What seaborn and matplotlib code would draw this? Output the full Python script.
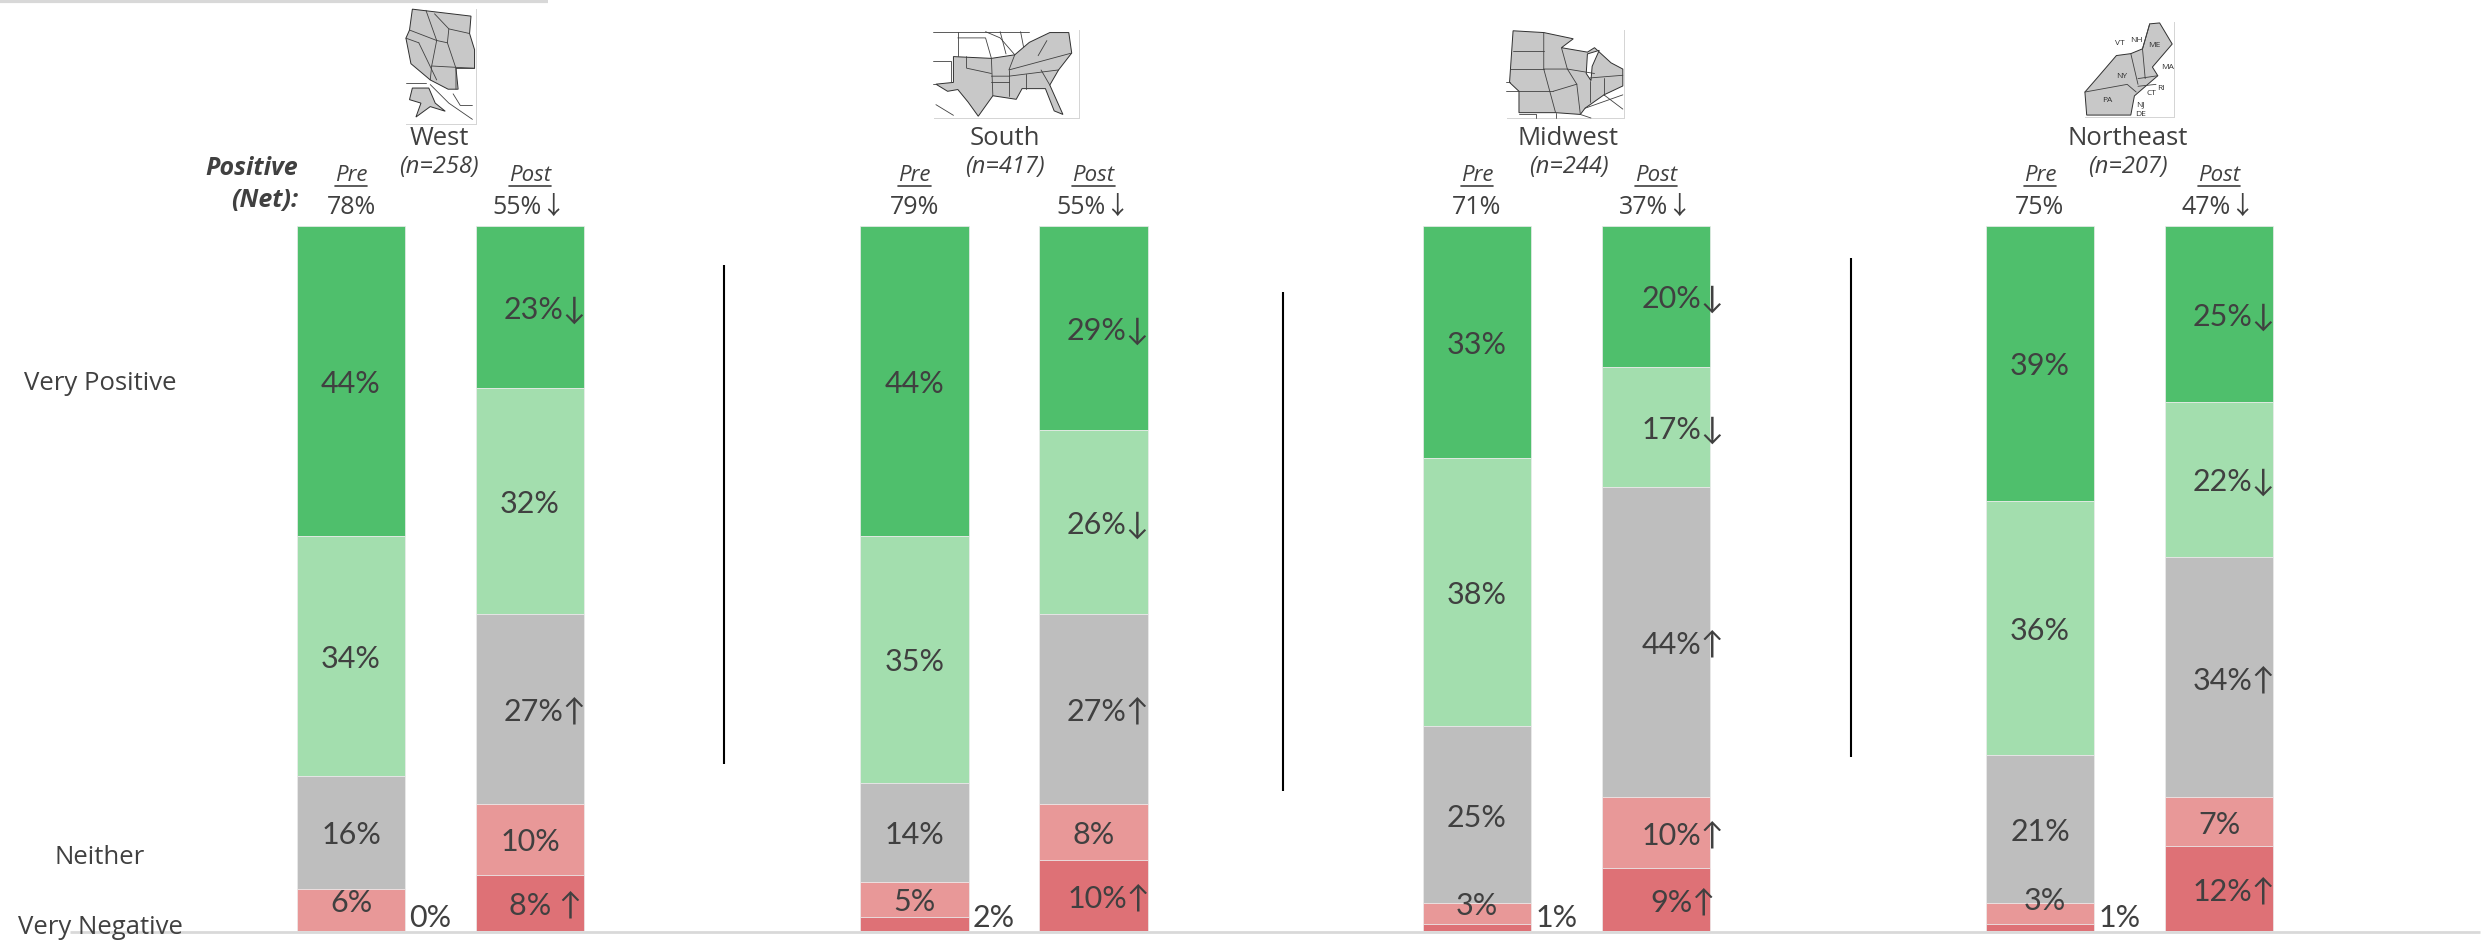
import pandas as pd
import seaborn as sns
import matplotlib.pyplot as plt
from matplotlib.patches import Polygon, Rectangle

regions = ['West', 'South', 'Midwest', 'Northeast']
sizes = ['(n=258)', '(n=417)', '(n=244)', '(n=207)']
phases = ['Pre', 'Post']
ratings = ['Very Positive', 'Positive', 'Neither', 'Negative', 'Very Negative']

pre_values = [[44, 34, 16, 6, 0], [44, 35, 14, 5, 2], [33, 38, 25, 3, 1], [39, 36, 21, 3, 1]]
post_values = [[23, 32, 27, 10, 8], [29, 26, 27, 8, 10], [20, 17, 44, 10, 9], [25, 22, 34, 7, 12]]
post_arrows = [['↓', '', '↑', '', ' ↑'], ['↓', '↓', '↑', '', '↑'], ['↓', '↓', '↑', '↑', '↑'], ['↓', '↓', '↑', '', '↑']]
net_pre = ['78%', '79%', '71%', '75%']
net_post = ['55%↓', '55%↓', '37%↓', '47%↓']

colors = ['#4FBF6C', '#A3DEAE', '#BEBEBE', '#E89898', '#DE7176']
text_col = '#404040'

# map thumbnails, rough outlines inside the picture box (0-1)
west_map = [(.11, .01), (.93, .07), (.91, .22), (.98, .36), (.98, .52), (.72, .52), (.75, .70), (.61, .70), (.36, .62), (.09, .48), (.02, .26), (.07, .19)]
alaska_map = [(.11, .69), (.34, .69), (.43, .82), (.57, .89), (.36, .85), (.16, .94), (.23, .82), (.07, .79)]
south_map = [(.14, .31), (.40, .33), (.56, .29), (.66, .15), (.80, .04), (.93, .04), (.95, .27), (.86, .46), (.80, .63), (.89, .96), (.83, .92), (.77, .67), (.61, .67), (.57, .79), (.41, .75), (.31, .98), (.24, .82), (.17, .68), (.10, .70), (.02, .62), (.14, .60)]
midwest_map = [(.06, .02), (.32, .04), (.57, .11), (.47, .21), (.69, .26), (.75, .21), (.89, .38), (.99, .45), (.99, .64), (.83, .74), (.67, .89), (.63, .96), (.42, .94), (.11, .94), (.11, .70), (.03, .60)]
midwest_lake = [(.69, .28), (.79, .24), (.73, .42), (.72, .58), (.68, .50)]
northeast_map = [(.73, .03), (.84, .02), (.98, .24), (.76, .48), (.82, .57), (.56, .78), (.52, .98), (.03, .98), (.01, .74), (.14, .60), (.36, .36), (.52, .34), (.65, .29)]

west_lines = [[(.07, .19), (.45, .28)], [(.02, .26), (.20, .30)], [(.20, .30), (.45, .62)], [(.45, .28), (.38, .50), (.36, .62)], [(.38, .50), (.98, .52)], [(.45, .28), (.60, .30), (.62, .18), (.91, .22)], [(.60, .30), (.72, .52), (.72, .70)], [(.30, .02), (.45, .28)], [(.42, .05), (.62, .18)],
              [(.02, .65), (.30, .65)], [(.36, .66), (.62, .82), (.95, .96)], [(.68, .74), (.78, .84), (.95, .84)]]
south_lines = [[(.40, .33), (.41, .75)], [(.23, .31), (.23, .44), (.40, .50)], [(.40, .53), (.52, .53), (.86, .46)], [(.56, .29), (.52, .46), (.95, .27)], [(.52, .46), (.52, .75)], [(.64, .50), (.64, .67)], [(.74, .46), (.80, .63)], [(.40, .60), (.52, .60)], [(.78, .13), (.72, .30)],
               [(0, .03), (.66, .03)], [(.17, .03), (.17, .30)], [(.17, .10), (.36, .10), (.40, .33)], [(.36, .03), (.46, .10), (.56, .29)], [(.46, .03), (.50, .28)], [(.60, .03), (.62, .20)], [(0, .36), (.12, .36), (.12, .60)], [(0, .62), (.02, .62)], [(.02, .85), (.14, .97)]]
midwest_lines = [[(.06, .25), (.32, .25)], [(.03, .45), (.32, .45)], [(.11, .70), (.40, .70)], [(.32, .04), (.32, .45), (.42, .94)], [(.32, .45), (.52, .45), (.60, .62)], [(.40, .70), (.60, .62)], [(.60, .62), (.63, .96)], [(.47, .21), (.52, .45), (.75, .50)], [(.71, .58), (.71, .82)], [(.83, .55), (.83, .74)], [(.71, .55), (.99, .52)],
                 [(.67, .89), (.99, .74)], [(.83, .74), (.99, .90)], [(.11, .96), (.25, .96), (.25, 1)], [(.42, .94), (.42, 1)], [(.63, .96), (.72, 1)], [(.03, .60), (0, .60)], [(.11, .70), (0, .70)]]
northeast_lines = [[(.52, .34), (.60, .66)], [(.65, .29), (.68, .60)], [(.60, .60), (.82, .57)], [(.01, .74), (.48, .66), (.58, .74)], [(.60, .68), (.80, .66)], [(.73, .03), (.65, .29)]]
northeast_names = [('VT', .40, .23), ('NH', .58, .20), ('ME', .78, .25), ('MA', .93, .48), ('NY', .42, .58), ('RI', .86, .70), ('CT', .75, .76), ('PA', .26, .83), ('NJ', .63, .87), ('DE', .63, .97)]

rows = []
for r, region in enumerate(regions):
    for phase, vals in zip(phases, [pre_values[r], post_values[r]]):
        bottom = 100 - sum(vals)
        for rating, v in reversed(list(zip(ratings, vals))):
            rows.append({'region': region, 'phase': phase, 'rating': rating, 'value': v, 'bottom': bottom})
            bottom += v
df = pd.DataFrame(rows)

sns.set_theme(style='white')
plt.rcParams['font.family'] = ['Open Sans', 'Noto Sans CJK JP', 'DejaVu Sans']
plt.rcParams['text.color'] = text_col

W, H = 2487, 941
fig = plt.figure(figsize=(W / 100, H / 100), dpi=100)

bar_top = 225.5
bar_base = 931
slot = 179
bar_w = 108.5 / slot
pre_centers = [351, 914.5, 1477, 2040]
post_shift = [15, 15, 27, 15]  # arrow hangs off the number, number stays on the bar centre

# nudges in px for labels the original moved by hand
nudges = {(0, 0, 3): (0, 10), (2, 0, 3): (0, 10), (3, 0, 3): (5, 15)}
label_font = ['Lato', 'Noto Sans CJK JP', 'DejaVu Sans']


def seg_label(ax, txt, x, y, dx=0, dy=0):
    ax.annotate(txt, xy=(x, y), xytext=(dx * .72, (dy - 3) * .72), textcoords='offset points',
                ha='center', va='center', fontsize=22, color=text_col, family=label_font)


for r, region in enumerate(regions):
    ax = fig.add_axes([(pre_centers[r] - slot / 2) / W, 1 - bar_base / H, 2 * slot / W, (bar_base - bar_top) / H])
    ax.patch.set_alpha(0)
    sub = df[df.region == region]
    for rating, c in zip(ratings, colors):
        part = sub[sub.rating == rating].set_index('phase').loc[phases].reset_index()
        sns.barplot(data=part, x='phase', y='value', order=phases, color=c, saturation=1,
                    width=bar_w, bottom=part['bottom'].values, errorbar=None, ax=ax,
                    edgecolor='#ECECEC', linewidth=0.5)
    ax.set_xlim(-0.5, 1.5)
    ax.set_ylim(0, 100)
    ax.set_axis_off()

    for p, phase in enumerate(phases):
        part = sub[sub.phase == phase]
        for k, rating in enumerate(ratings):
            row = part[part.rating == rating].iloc[0]
            v, b = row['value'], row['bottom']
            if v <= 2 and p == 0:
                # too thin for the bar, goes beside it at the base
                ax.annotate(f'{v}%', xy=(p + bar_w / 2, 0), xytext=(3, -1), textcoords='offset points',
                            ha='left', va='bottom', fontsize=22, color=text_col, family=label_font)
                continue
            arrow = post_arrows[r][k] if p == 1 else ''
            dx = post_shift[r] if arrow else 0
            nx, ny = nudges.get((r, p, k), (0, 0))
            seg_label(ax, f'{v}%{arrow}', p, b + v / 2, dx + nx, ny)

# overlay in picture pixels for headers, dividers and maps
ov = fig.add_axes([0, 0, 1, 1])
ov.set_xlim(0, W)
ov.set_ylim(H, 0)
ov.patch.set_alpha(0)
ov.set_axis_off()

ov.plot([0, 548], [1, 1], color='#D8D8D8', lw=3, solid_capstyle='butt')
ov.plot([70, 2480], [932, 932], color='#D9D9D9', lw=2, solid_capstyle='butt')

for x, y0, y1 in [(723.5, 265, 764), (1283, 292, 791), (1851, 258, 757)]:
    ov.plot([x, x], [y0, y1], color='black', lw=1.5, solid_capstyle='butt')

for name, y in zip(['Very Positive', 'Neither', 'Very Negative'], [384, 858, 927]):
    ov.text(100, y, name, ha='center', va='center', fontsize=18.5)

ov.text(298, 168, 'Positive', ha='right', va='center', fontsize=18, style='italic', weight='bold')
ov.text(298, 200, '(Net):', ha='right', va='center', fontsize=18, style='italic', weight='bold')

title_x = [439, 1005, 1568.5, 2128]
fig.canvas.draw()
rend = fig.canvas.get_renderer()
for r, region in enumerate(regions):
    ov.text(title_x[r], 138, region, ha='center', va='center', fontsize=18.5)
    ov.text(title_x[r], 167, sizes[r], ha='center', va='center', fontsize=17, style='italic')
    for p, (phase, net) in enumerate(zip(phases, [net_pre[r], net_post[r]])):
        cx = pre_centers[r] + p * slot
        t = ov.text(cx, 175, phase, ha='center', va='center', fontsize=16, style='italic')
        box = t.get_window_extent(rend)
        ov.plot([box.x0, box.x1], [186, 186], color=text_col, lw=1.2)
        ov.text(cx, 207, net, ha='center', va='center', fontsize=18)


def draw_map(box, shapes, lines, names=(), holes=()):
    x0, y0, x1, y1 = box
    ov.add_patch(Rectangle((x0 + 1, y0 + 1), x1 - x0, y1 - y0, fc='#D5D5D5', ec='none'))
    ov.add_patch(Rectangle((x0, y0), x1 - x0, y1 - y0, fc='white', ec='none'))
    sx = lambda a: x0 + a * (x1 - x0)
    sy = lambda a: y0 + a * (y1 - y0)
    for s in shapes:
        ov.add_patch(Polygon([(sx(a), sy(b)) for a, b in s], fc='#C8C8C8', ec='#303030', lw=0.7))
    for s in holes:
        ov.add_patch(Polygon([(sx(a), sy(b)) for a, b in s], fc='white', ec='#303030', lw=0.7))
    for l in lines:
        ov.plot([sx(a) for a, b in l], [sy(b) for a, b in l], color='#404040', lw=0.6)
    for n, a, b in names:
        ov.text(sx(a), sy(b), n, ha='center', va='center', fontsize=6, color='#303030')


draw_map((404.5, 8, 476, 124), [west_map, alaska_map], west_lines)
draw_map((933, 29, 1079, 118), [south_map], south_lines)
draw_map((1506, 29, 1624, 118), [midwest_map], midwest_lines, holes=[midwest_lake])
draw_map((2084, 21, 2174, 117), [northeast_map], northeast_lines, northeast_names)

fig.savefig('out.png', dpi=100)
